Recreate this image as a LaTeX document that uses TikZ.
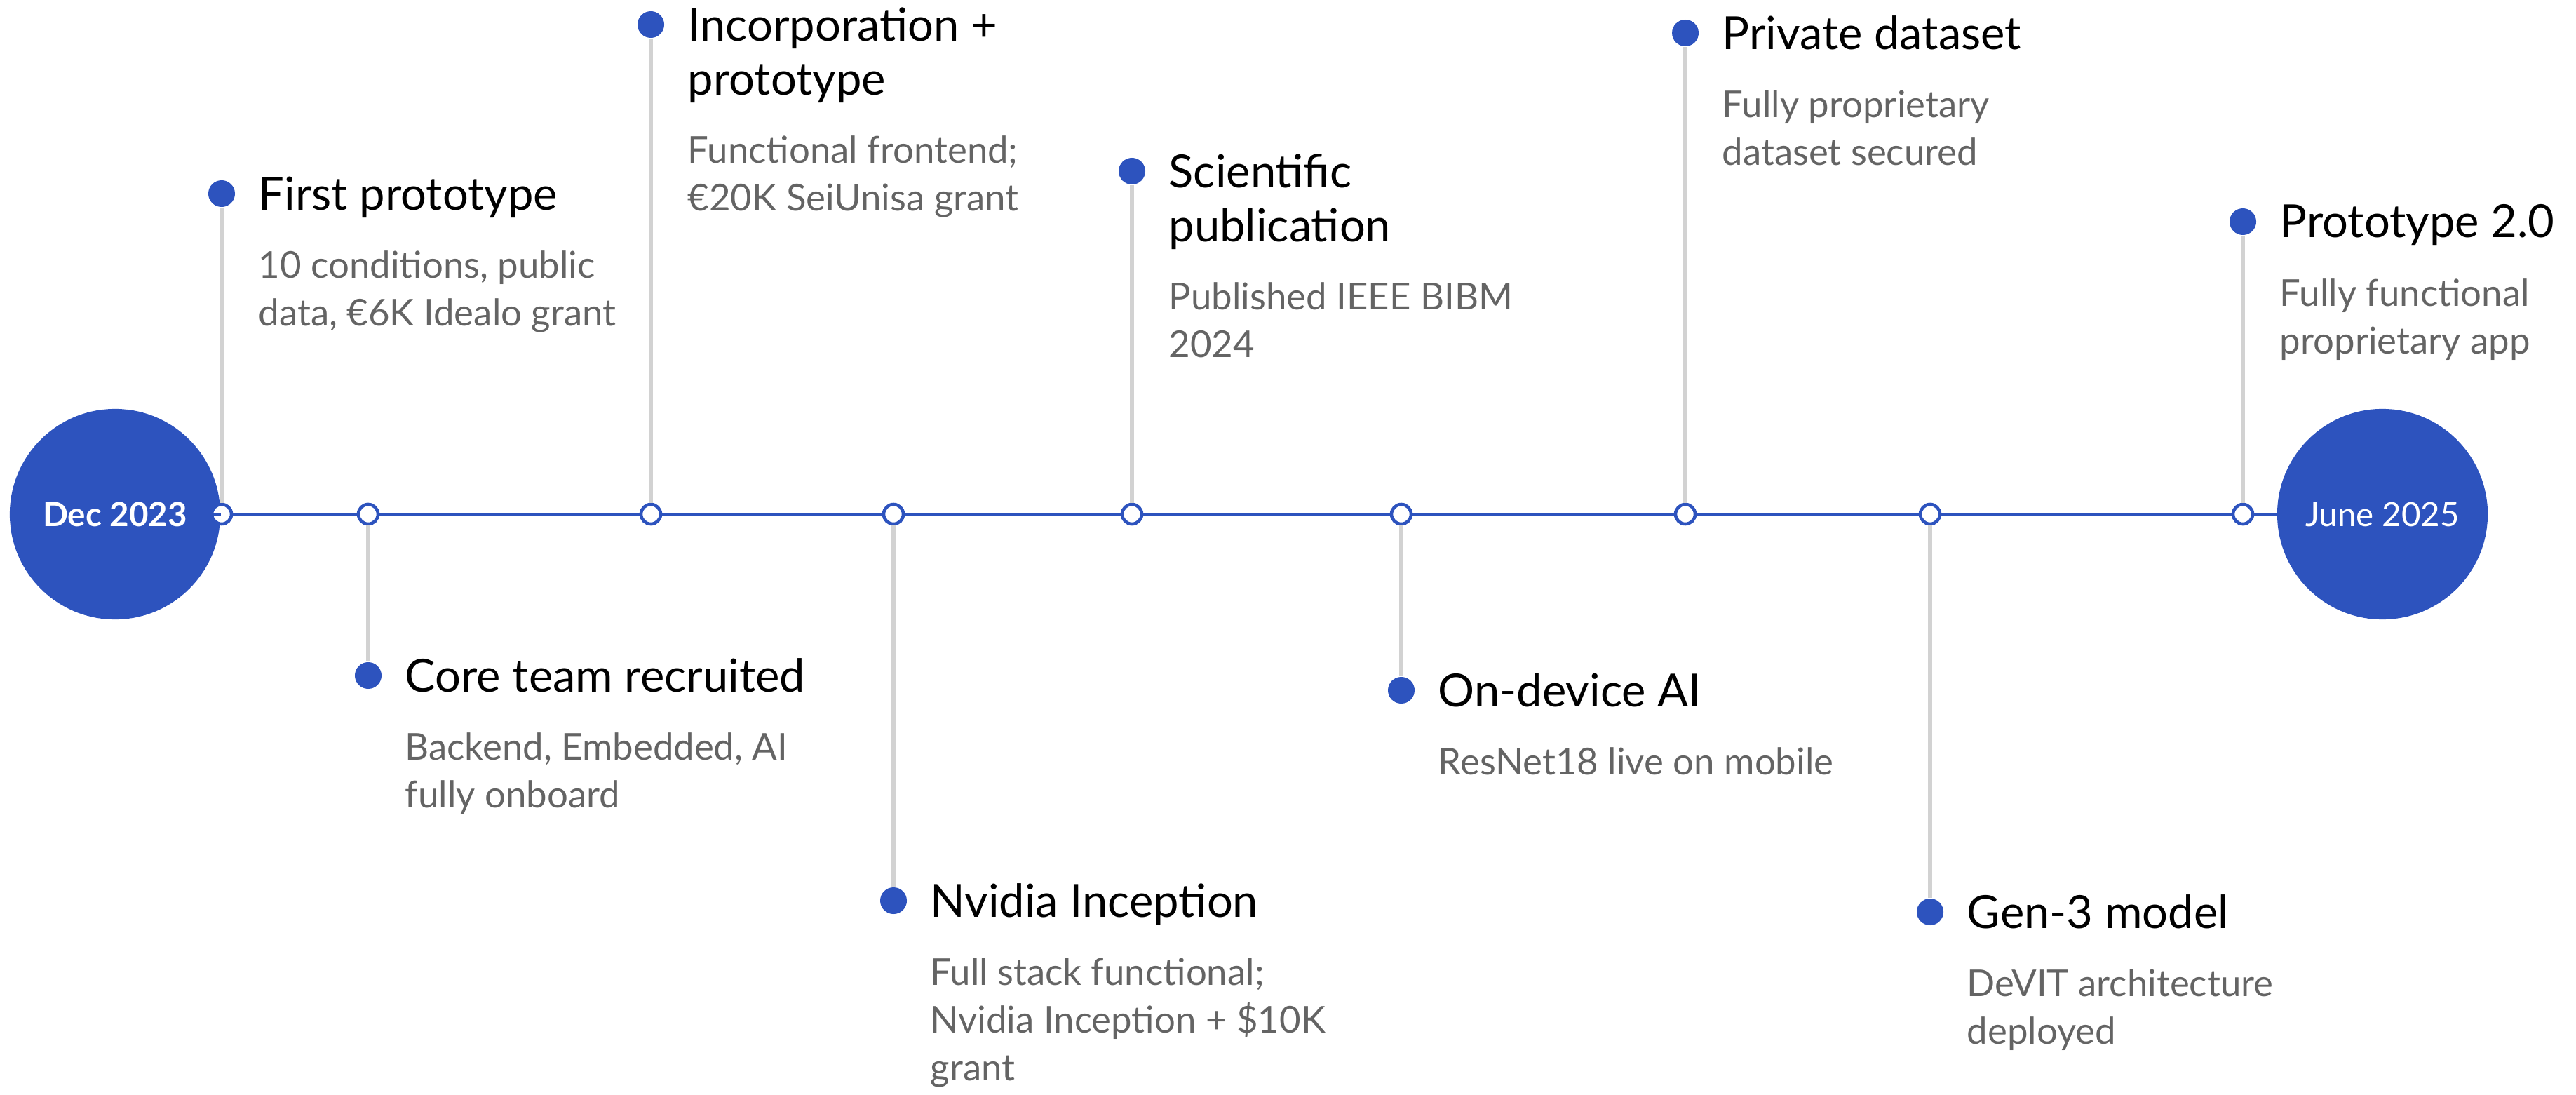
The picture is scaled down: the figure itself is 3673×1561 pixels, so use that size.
\documentclass[tikz,border=0pt]{standalone}
\usepackage{fontspec}
\setmainfont{Lato}
\usetikzlibrary{positioning}

\definecolor{tlblue}{RGB}{45,83,190}
\definecolor{stemgray}{RGB}{210,210,210}
\definecolor{descgray}{RGB}{100,100,100}

\begin{document}
\begin{tikzpicture}[x=0.01cm, y=-0.01cm]

% Define styles
\tikzstyle{axis} = [tlblue, line width=1.4pt]
\tikzstyle{stem} = [stemgray, line width=1.5pt]
\tikzstyle{endpoint} = [circle, fill=tlblue, minimum size=3cm, inner sep=0pt, text=white, font=\fontsize{13.5}{16}\selectfont]
\tikzstyle{knot} = [circle, draw=tlblue, fill=white, line width=1.3pt, minimum size=0.28cm, inner sep=0pt]
\tikzstyle{bullet} = [circle, fill=tlblue, minimum size=0.38cm, inner sep=0pt]
\tikzstyle{headline} = [anchor=north west, inner sep=0pt, align=left, xshift=0.52cm, yshift=0.25cm, font=\fontsize{18.5}{22}\selectfont]
\tikzstyle{desc} = [anchor=north west, inner sep=0pt, align=left, xshift=0.52cm, text=descgray, font=\fontsize{15}{19.3}\selectfont]

\useasboundingbox (0,0) rectangle (3673,1561);

% Start and end of the timeline
\node [endpoint] (start) at (164,733) {\bfseries Dec 2023};
\node [endpoint] (finish) at (3397,733) {June 2025};

% Points on the timeline
\node [knot] (k1) at (316,733) {};
\node [knot] (k2) at (525,733) {};
\node [knot] (k3) at (928,733) {};
\node [knot] (k4) at (1274,733) {};
\node [knot] (k5) at (1614,733) {};
\node [knot] (k6) at (1998,733) {};
\node [knot] (k7) at (2403,733) {};
\node [knot] (k8) at (2752,733) {};
\node [knot] (k9) at (3198,733) {};

% Milestones
\node [bullet] (d1) at (316,276) {};
\node [headline] (t1) at (d1) {First prototype};
\node [desc, yshift=-0.81cm] (s1) at (d1) {10 conditions, public\\data, €6K Idealo grant};

\node [bullet] (d2) at (525,963) {};
\node [headline] (t2) at (d2) {Core team recruited};
\node [desc, yshift=-0.81cm] (s2) at (d2) {Backend, Embedded, AI\\fully onboard};

\node [bullet] (d3) at (928,35) {};
\node [headline] (t3) at (d3) {Incorporation +\\prototype};
\node [desc, yshift=-1.58cm] (s3) at (d3) {Functional frontend;\\€20K SeiUnisa grant};

\node [bullet] (d4) at (1274,1284) {};
\node [headline] (t4) at (d4) {Nvidia Inception};
\node [desc, yshift=-0.81cm] (s4) at (d4) {Full stack functional;\\Nvidia Inception + \$10K\\grant};

\node [bullet] (d5) at (1614,244) {};
\node [headline] (t5) at (d5) {Scientific\\publication};
\node [desc, yshift=-1.58cm] (s5) at (d5) {Published IEEE BIBM\\2024};

\node [bullet] (d6) at (1998,984) {};
\node [headline] (t6) at (d6) {On-device AI};
\node [desc, yshift=-0.81cm] (s6) at (d6) {ResNet18 live on mobile};

\node [bullet] (d7) at (2403,47) {};
\node [headline] (t7) at (d7) {Private dataset};
\node [desc, yshift=-0.81cm] (s7) at (d7) {Fully proprietary\\dataset secured};

\node [bullet] (d8) at (2752,1300) {};
\node [headline] (t8) at (d8) {Gen-3 model};
\node [desc, yshift=-0.81cm] (s8) at (d8) {DeVIT architecture\\deployed};

\node [bullet] (d9) at (3198,316) {};
\node [headline] (t9) at (d9) {Prototype 2.0};
\node [desc, yshift=-0.81cm] (s9) at (d9) {Fully functional\\proprietary app};

% Timeline
\draw [axis] (start) -- (k1) -- (k2) -- (k3) -- (k4) -- (k5) -- (k6) -- (k7) -- (k8) -- (k9) -- (finish);

% Stems
\draw [stem] (d1) -- (k1);
\draw [stem] (k2) -- (d2);
\draw [stem] (d3) -- (k3);
\draw [stem] (k4) -- (d4);
\draw [stem] (d5) -- (k5);
\draw [stem] (k6) -- (d6);
\draw [stem] (d7) -- (k7);
\draw [stem] (k8) -- (d8);
\draw [stem] (d9) -- (k9);

\end{tikzpicture}
\end{document}
